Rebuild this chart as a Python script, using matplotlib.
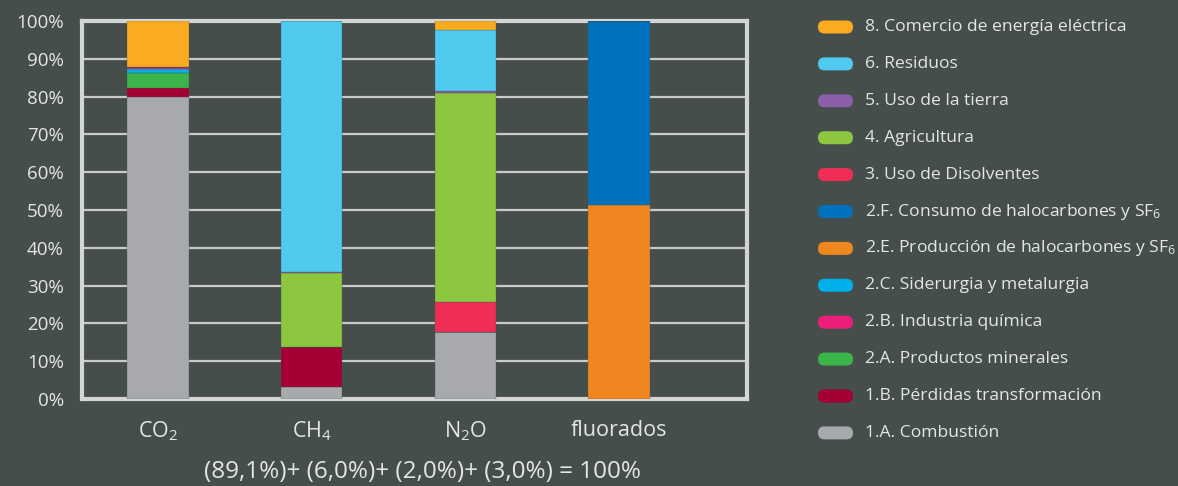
import matplotlib
matplotlib.use("Agg")
import matplotlib.pyplot as plt
from matplotlib.patches import FancyBboxPatch
from matplotlib.ticker import PercentFormatter

plt.rcParams["font.family"] = ["Open Sans", "DejaVu Sans"]
plt.rcParams["mathtext.fontset"] = "custom"
plt.rcParams["mathtext.rm"] = "Open Sans"
plt.rcParams["mathtext.it"] = "Open Sans"

BG = "#464e4b"
TXT = "#e4e6e5"
GRID = "#c9cbca"

gases = ["CO$_2$", "CH$_4$", "N$_2$O", "fluorados"]

# share (%) of each sector within each gas: CO2, CH4, N2O, fluorados
combustion = [79.8, 3.2, 17.8, 0]
perdidas = [2.6, 10.6, 0, 0]
minerales = [3.9, 0, 0, 0]
siderurgia = [1.0, 0, 0, 0]
quimica = [0.4, 0, 0, 0]
prod_halo = [0, 0, 0, 51.3]
cons_halo = [0, 0, 0, 48.7]
disolventes = [0, 0, 7.9, 0]
agricultura = [0, 19.6, 55.2, 0]
tierra = [0, 0.3, 0.6, 0]
residuos = [0, 66.3, 16.1, 0]
energia = [12.3, 0, 2.4, 0]

# stacking order, bottom to top
stack = [
    (combustion, "#a7a9ac"),
    (perdidas, "#a50034"),
    (minerales, "#3bb54a"),
    (siderurgia, "#00b0ea"),
    (quimica, "#ec1e79"),
    (prod_halo, "#ef8620"),
    (cons_halo, "#0071bc"),
    (disolventes, "#ef2d56"),
    (agricultura, "#8dc63f"),
    (tierra, "#8a5ea8"),
    (residuos, "#50cbef"),
    (energia, "#fbab1f"),
]

legend_labels = [
    "8. Comercio de energía eléctrica",
    "6. Residuos",
    "5. Uso de la tierra",
    "4. Agricultura",
    "3. Uso de Disolventes",
    "2.F. Consumo de halocarbones y SF$_6$",
    "2.E. Producción de halocarbones y SF$_6$",
    "2.C. Siderurgia y metalurgia",
    "2.B. Industria química",
    "2.A. Productos minerales",
    "1.B. Pérdidas transformación",
    "1.A. Combustión",
]
legend_colors = ["#fbab1f", "#50cbef", "#8a5ea8", "#8dc63f", "#ef2d56", "#0071bc",
                 "#ef8620", "#00b0ea", "#ec1e79", "#3bb54a", "#a50034", "#a7a9ac"]

W, H = 1178, 486
fig = plt.figure(figsize=(W / 100, H / 100), dpi=100)
fig.patch.set_facecolor(BG)

# main axes: pixels 82..747 horizontally, 21..399 vertically
ax = fig.add_axes([82 / W, (H - 399) / H, (747 - 82) / W, (399 - 21) / H])
ax.set_facecolor(BG)

x = range(len(gases))
bottom = [0.0] * len(gases)
for vals, col in stack:
    ax.bar(x, vals, bottom=bottom, width=0.40, color=col, zorder=3,
           edgecolor=BG, linewidth=0.2)
    bottom = [b + v for b, v in zip(bottom, vals)]

ax.set_xlim(-0.494, 3.833)
ax.set_ylim(0, 100)
ax.set_yticks(range(0, 101, 10))
ax.yaxis.set_major_formatter(PercentFormatter(decimals=0))
ax.yaxis.grid(True, color=GRID, linewidth=1.6, zorder=0)
ax.set_xticks(list(x))
ax.set_xticklabels(gases, fontsize=15.5)
ax.tick_params(axis="both", length=0, colors=TXT)
ax.tick_params(axis="y", labelsize=13.5, pad=13)
ax.tick_params(axis="x", pad=15)
for s in ax.spines.values():
    s.set_color("#d4d6d5")
    s.set_linewidth(3)

fig.text(423 / W, 1 - 472 / H, "(89,1%)+ (6,0%)+ (2,0%)+ (3,0%) = 100%",
         ha="center", va="center", fontsize=17.5, color=TXT)

# legend drawn in a pixel-mapped axes
lx0 = 800
lax = fig.add_axes([lx0 / W, 0, (W - lx0) / W, 1])
lax.set_xlim(lx0, W)
lax.set_ylim(H, 0)
lax.axis("off")
row0, step = 27, 36.9
for i, (lab, col) in enumerate(zip(legend_labels, legend_colors)):
    yc = row0 + i * step
    lax.add_patch(FancyBboxPatch((818, yc - 6.5), 35, 13,
                                 boxstyle="round,pad=0,rounding_size=6.5",
                                 facecolor=col, edgecolor="none"))
    lax.text(865, yc, lab, ha="left", va="center", fontsize=12.6, color=TXT)

fig.savefig("out.png", dpi=100, facecolor=BG)
